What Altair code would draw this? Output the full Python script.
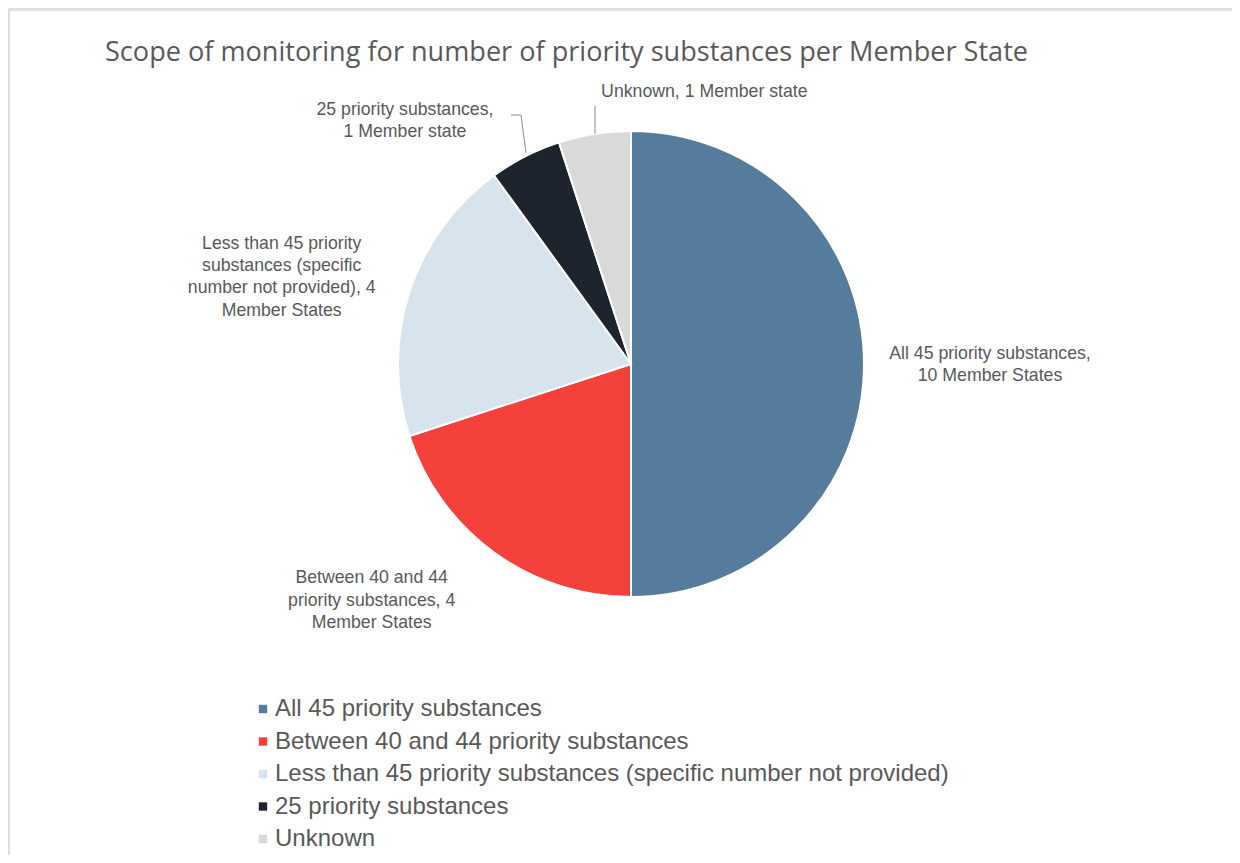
import altair as alt
import pandas as pd

# ---- data ----
categories = [
    "All 45 priority substances",
    "Between 40 and 44 priority substances",
    "Less than 45 priority substances (specific number not provided)",
    "25 priority substances",
    "Unknown",
]
member_states = [10, 4, 4, 1, 1]
slice_labels = [
    "All 45 priority substances, \n10 Member States",
    "Between 40 and 44\npriority substances, 4\nMember States",
    "Less than 45 priority\nsubstances (specific\nnumber not provided), 4\nMember States",
    "25 priority substances,\n1 Member state",
    "Unknown, 1 Member state",
]
colors = ["#557B9D", "#F5413B", "#D7E4EE", "#1D242D", "#D9D9D9"]
title_text = "Scope of monitoring for number of priority substances per Member State"

df = pd.DataFrame({"cat": categories, "value": member_states, "label": slice_labels})
df["idx"] = range(len(df))
total = float(sum(member_states))
df["mid"] = df["value"].cumsum() - df["value"] / 2.0

CX, CY, R = 623, 356, 233
FONT = "Liberation Sans"
GREY = "#595959"

pie = alt.Chart(df).mark_arc(radius=R, stroke="white", strokeWidth=2).encode(
    theta=alt.Theta("value:Q", stack=True, scale=alt.Scale(domain=[0, total])),
    color=alt.Color(
        "cat:N",
        scale=alt.Scale(domain=categories, range=colors),
        sort=categories,
        legend=alt.Legend(
            title=None,
            orient="none",
            legendX=243,
            legendY=689,
            symbolType="square",
            symbolSize=70,
            symbolStrokeWidth=0,
            labelFont=FONT,
            labelFontSize=24,
            labelColor=GREY,
            labelLimit=900,
            labelOffset=0,
            rowPadding=8.5,
            padding=0,
        ),
    ),
    order=alt.Order("idx:Q"),
    x=alt.value(CX),
    y=alt.value(CY),
)

# label placement: (radius along slice mid-angle, dx, dy)
LH = 22.3
label_pos = {
    categories[0]: (359, 0, 1 - LH * 0.5),
    categories[1]: (300, -83, -6 - LH),
    categories[2]: (300, -64, 6 - LH * 1.5),
    categories[3]: (260, -108, -11 - LH * 0.5),
    categories[4]: (260, 114, -15),
}

label_layers = []
for cat, (rad, dx, dy) in label_pos.items():
    label_layers.append(
        alt.Chart(df)
        .transform_filter(alt.datum.cat == cat)
        .mark_text(
            radius=rad, dx=dx, dy=dy, align="center", baseline="middle",
            lineBreak="\n", lineHeight=LH, font=FONT, fontSize=17.7, color=GREY,
        )
        .encode(
            theta=alt.Theta("mid:Q", scale=alt.Scale(domain=[0, total])),
            text="label:N",
            x=alt.value(CX),
            y=alt.value(CY),
        )
    )

base = alt.Chart(pd.DataFrame({"a": [0]}))

title = base.mark_text(
    align="left", baseline="alphabetic", font="Open Sans", fontSize=27.1, color=GREY
).encode(x=alt.value(97), y=alt.value(53), text=alt.value(title_text))

leader_col = "#8C8C8C"
leaders = [
    base.mark_rule(color=leader_col, strokeWidth=1).encode(
        x=alt.value(503), x2=alt.value(513), y=alt.value(107)),
    base.mark_rule(color=leader_col, strokeWidth=1).encode(
        x=alt.value(513), x2=alt.value(518), y=alt.value(107), y2=alt.value(145)),
    base.mark_rule(color=leader_col, strokeWidth=1).encode(
        x=alt.value(587), y=alt.value(98), y2=alt.value(126)),
]

frame = [
    base.mark_rule(color="#D9D9D9", strokeWidth=1.5).encode(
        x=alt.value(1), x2=alt.value(1224), y=alt.value(2)),
    base.mark_rule(color="#D9D9D9", strokeWidth=1.5).encode(
        x=alt.value(1), y=alt.value(2), y2=alt.value(847)),
]

chart = (
    alt.layer(*frame, pie, *label_layers, *leaders, title)
    .resolve_scale(theta="independent")
    .properties(width=1224, height=847, padding=0, autosize="none")
    .configure_view(stroke=None)
    .configure(background="white")
)

chart.save("out.html", embed_options={"renderer": "svg", "actions": False})
